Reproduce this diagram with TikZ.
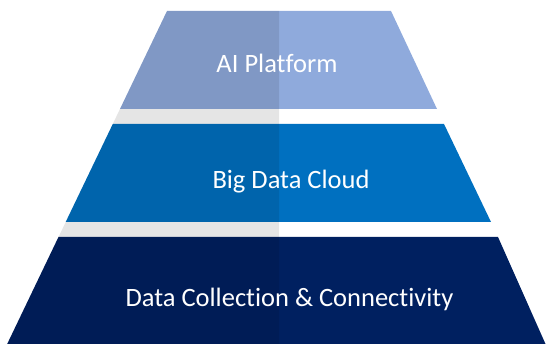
\documentclass[tikz,border=0pt]{standalone}
\usepackage{fontspec}
\setmainfont{Carlito}[Ligatures={NoCommon}]
\definecolor{layerA}{HTML}{8FAADC}
\definecolor{layerB}{HTML}{0070C0}
\definecolor{layerC}{HTML}{002060}
\tikzset{
  layer/.style={draw=none},
  label/.style={text=white, font=\fontsize{26.5}{30}\selectfont, anchor=base, inner sep=0pt},
  shade/.style={fill=black, fill opacity=0.1, draw=none}
}
\begin{document}
\begin{tikzpicture}[x=1pt,y=1pt]
\useasboundingbox (0,0) rectangle (546,347);
% layers
\fill[layer, layerA] (167,336) -- (391,336) -- (437,238) -- (120,238) -- cycle;
\fill[layer, layerB] (112.8,223) -- (444,223) -- (491,125) -- (65.7,125) -- cycle;
\fill[layer, layerC] (58.5,110) -- (498,110) -- (545.5,3) -- (7.2,3) -- cycle;
% left-half darkening
\fill[shade] (167,336) -- (279,336) -- (279,3) -- (7.2,3) -- cycle;
% labels
\node[label] (ai) at (277,274) {AI Platform};
\node[label] (bd) at (291,158) {Big Data Cloud};
\node[label] (dc) at (289.5,40) {Data Collection \& Connectivity};
\end{tikzpicture}
\end{document}
